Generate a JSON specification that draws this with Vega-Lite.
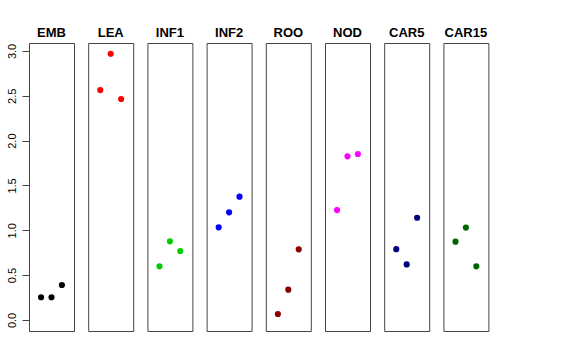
{
  "$schema": "https://vega.github.io/schema/vega-lite/v6.json",
  "autosize": {"type": "pad"},
  "padding": {"left": 5, "top": 27, "right": 5, "bottom": 5},
  "background": "white",
  "bounds": "flush",
  "data": {
    "values": [
      {"panel": "EMB", "pos": -1, "value": 0.253},
      {"panel": "EMB", "pos": 0, "value": 0.253},
      {"panel": "EMB", "pos": 1, "value": 0.39},
      {"panel": "LEA", "pos": -1, "value": 2.564},
      {"panel": "LEA", "pos": 0, "value": 2.969},
      {"panel": "LEA", "pos": 1, "value": 2.464},
      {"panel": "INF1", "pos": -1, "value": 0.598},
      {"panel": "INF1", "pos": 0, "value": 0.877},
      {"panel": "INF1", "pos": 1, "value": 0.769},
      {"panel": "INF2", "pos": -1, "value": 1.033},
      {"panel": "INF2", "pos": 0, "value": 1.2},
      {"panel": "INF2", "pos": 1, "value": 1.375},
      {"panel": "ROO", "pos": -1, "value": 0.067},
      {"panel": "ROO", "pos": 0, "value": 0.338},
      {"panel": "ROO", "pos": 1, "value": 0.788},
      {"panel": "NOD", "pos": -1, "value": 1.226},
      {"panel": "NOD", "pos": 0, "value": 1.825},
      {"panel": "NOD", "pos": 1, "value": 1.851},
      {"panel": "CAR5", "pos": -1, "value": 0.79},
      {"panel": "CAR5", "pos": 0, "value": 0.62},
      {"panel": "CAR5", "pos": 1, "value": 1.14},
      {"panel": "CAR15", "pos": -1, "value": 0.873},
      {"panel": "CAR15", "pos": 0, "value": 1.03},
      {"panel": "CAR15", "pos": 1, "value": 0.598}
    ]
  },
  "spacing": 14.2,
  "facet": {
    "column": {
      "field": "panel",
      "type": "nominal",
      "sort": ["EMB", "LEA", "INF1", "INF2", "ROO", "NOD", "CAR5", "CAR15"],
      "header": {"title": null}
    }
  },
  "spec": {
    "width": 45,
    "height": 288,
    "mark": {"type": "point", "filled": true, "opacity": 1, "size": 38},
    "encoding": {
      "x": {
        "field": "pos",
        "type": "quantitative",
        "scale": {"domain": [-2.16, 2.16], "nice": false, "zero": false},
        "axis": null
      },
      "y": {
        "field": "value",
        "type": "quantitative",
        "scale": {"domain": [-0.123, 3.089], "nice": false, "zero": false},
        "axis": {
          "title": null,
          "values": [0, 0.5, 1, 1.5, 2, 2.5, 3],
          "format": ".1f",
          "grid": false,
          "domain": false,
          "tickSize": 7,
          "tickColor": "#444",
          "labelAngle": -90,
          "labelFont": "Liberation Sans",
          "labelFontSize": 11,
          "labelColor": "black",
          "labelPadding": 5
        }
      },
      "color": {
        "field": "panel",
        "type": "nominal",
        "scale": {
          "domain": ["EMB", "LEA", "INF1", "INF2", "ROO", "NOD", "CAR5", "CAR15"],
          "range": ["#000000", "#FF0000", "#00CD00", "#0000FF", "#8B0000", "#FF00FF", "#000080", "#006400"]
        },
        "legend": null
      }
    }
  },
  "config": {
    "view": {"stroke": "#444", "strokeWidth": 1},
    "header": {
      "labelFont": "Liberation Sans",
      "labelFontSize": 13,
      "labelFontWeight": "bold",
      "labelColor": "black",
      "labelPadding": 3
    }
  }
}
